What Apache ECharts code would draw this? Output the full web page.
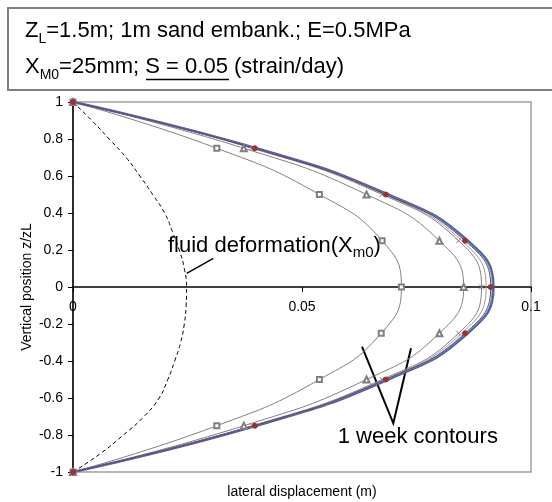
<!DOCTYPE html>
<html>
<head>
<meta charset="utf-8">
<script src="https://cdn.jsdelivr.net/npm/echarts@6/dist/echarts.min.js"></script>
<style>
html, body { margin: 0; padding: 0; background: #fff; }
#chart { width: 552px; height: 502px; }
</style>
</head>
<body>
<div id="chart"></div>
<script>
// vertical positions z/zL where the markers sit
const levels = [1, 0.75, 0.5, 0.25, 0, -0.25, -0.5, -0.75, -1];

// lateral displacement (m) for each contour
const squareX = [0, 0.0314, 0.0538, 0.0675, 0.0717, 0.0673, 0.0538, 0.0314, 0];
const triangleX = [0, 0.0373, 0.0641, 0.0800, 0.0853, 0.0800, 0.0641, 0.0373, 0];
const crossX = [0, 0.0391, 0.0675, 0.0842, 0.0892, 0.0842, 0.0675, 0.0391, 0];
const plainX = [0, 0.0394, 0.0679, 0.0849, 0.0902, 0.0849, 0.0679, 0.0394, 0];
const circleX = [0, 0.0397, 0.0683, 0.0856, 0.0912, 0.0856, 0.0683, 0.0397, 0];
const tealX = [0, 0.0398, 0.0685, 0.0859, 0.0915, 0.0859, 0.0685, 0.0398, 0];
const blueX = [0, 0.0400, 0.0688, 0.0862, 0.0918, 0.0862, 0.0688, 0.0400, 0];

// fluid deformation curve (dashed)
const fluidZ = [1, 0.9, 0.8, 0.7, 0.6, 0.5, 0.4, 0.3, 0.2, 0.1, 0,
    -0.1, -0.2, -0.3, -0.4, -0.5, -0.6, -0.7, -0.8, -0.9, -1];
const fluidX = [0, 0.0041, 0.0079, 0.0116, 0.0146, 0.0174, 0.0200, 0.0217, 0.0232, 0.0243, 0.0248,
    0.0247, 0.0243, 0.0235, 0.0222, 0.0207, 0.0188, 0.0155, 0.0110, 0.0060, 0];

const xMin = 0, xMax = 0.1, xStep = 0.05;
const yMin = -1, yMax = 1, yStep = 0.2;

const FONT = "'Liberation Sans', Arial, sans-serif";
const GREY = '#808080';

const GRID_TOP = 102, GRID_BOTTOM = 30, CHART_H = 502;
// lift the x axis from the grid bottom up to z/zL = 0
const xAxisLift = (CHART_H - GRID_TOP - GRID_BOTTOM) * (0 - yMin) / (yMax - yMin);

const zip = (xs, zs) => xs.map((x, i) => [x, zs[i]]);

const chart = echarts.init(document.getElementById('chart'));

function contour(name, xs, symbol, size, color, extra) {
    return Object.assign({
        name: name,
        type: 'line',
        smooth: true,
        data: zip(xs, levels),
        symbol: symbol,
        symbolSize: size,
        lineStyle: { color: color, width: 1 },
        itemStyle: { color: color, borderColor: color, borderWidth: 1 }
    }, extra || {});
}

const option = {
    animation: false,
    backgroundColor: '#fff',
    textStyle: { fontFamily: FONT },
    grid: {
        left: 73, right: 21, top: GRID_TOP, bottom: GRID_BOTTOM,
        outerBoundsMode: 'none',
        containLabel: false,
        show: true, borderColor: '#a0a0a0', borderWidth: 1.5
    },
    xAxis: {
        type: 'value',
        position: 'bottom',
        offset: -xAxisLift,
        min: xMin, max: xMax, interval: xStep,
        name: 'lateral displacement (m)',
        nameLocation: 'middle',
        nameGap: 198,
        nameMoveOverlap: false,
        nameTextStyle: { fontSize: 14, color: '#000', fontFamily: FONT },
        axisLine: { onZero: false, lineStyle: { color: '#000', width: 1.5 } },
        axisTick: { show: true, length: 5, lineStyle: { color: '#000' } },
        axisLabel: { fontSize: 14, color: '#000', margin: 13, fontFamily: FONT },
        splitLine: { show: false }
    },
    yAxis: {
        type: 'value',
        min: yMin, max: yMax, interval: yStep,
        name: 'Vertical position z/zL',
        nameLocation: 'middle',
        nameGap: 39,
        nameMoveOverlap: false,
        nameTextStyle: { fontSize: 14, color: '#000', fontFamily: FONT },
        axisLine: { show: true, onZero: false, lineStyle: { color: '#000', width: 1.5 } },
        axisTick: { show: true, length: 5, lineStyle: { color: '#000' } },
        axisLabel: { fontSize: 14, color: '#000', margin: 10, fontFamily: FONT },
        splitLine: { show: false }
    },
    series: [
        {
            name: 'fluid',
            type: 'line',
            smooth: true,
            data: zip(fluidX, fluidZ),
            symbol: 'none',
            lineStyle: { color: '#000', width: 1, type: [4, 3] }
        },
        contour('squares', squareX, 'emptyRect', 5, GREY),
        contour('triangles', triangleX, 'emptyTriangle', 6, GREY),
        contour('crosses', crossX, 'path://M0,0L10,10M10,0L0,10', 5, GREY,
            { itemStyle: { color: 'none', borderColor: GREY, borderWidth: 1 } }),
        contour('plain', plainX, 'none', 0, '#9a9a9a'),
        contour('blue', blueX, 'none', 0, '#4e5eae', { lineStyle: { color: '#4e5eae', width: 2.5 } }),
        contour('teal', tealX, 'none', 0, '#5aa5a5'),
        contour('circles', circleX, 'circle', 5, '#993333',
            { lineStyle: { color: '#7a3a5a', width: 1 } })
    ],
    graphic: [
        {
            type: 'rect',
            shape: { x: 8, y: 8, width: 560, height: 82 },
            style: { fill: '#fff', stroke: '#808080', lineWidth: 2 }
        },
        {
            type: 'text',
            x: 25, y: 14.5,
            style: {
                text: '{m|Z}{s|L}{m|=1.5m; 1m sand embank.; E=0.5MPa}',
                fill: '#000',
                rich: {
                    m: { fontSize: 22, fontFamily: FONT },
                    s: { fontSize: 14, fontFamily: FONT, padding: [18, 0, 0, 0] }
                }
            }
        },
        {
            type: 'text',
            x: 25, y: 52.1,
            style: {
                text: '{m|X}{s|M0}{m|=25mm; S = 0.05 (strain/day)}',
                fill: '#000',
                rich: {
                    m: { fontSize: 22, fontFamily: FONT },
                    s: { fontSize: 14, fontFamily: FONT, padding: [16, 0, 0, 0] }
                }
            }
        },
        {
            type: 'line',
            shape: { x1: 146, y1: 79.5, x2: 229, y2: 79.5 },
            style: { stroke: '#000', lineWidth: 1.5 }
        },
        {
            type: 'text',
            x: 168, y: 230.5,
            style: {
                text: '{m|fluid deformation(X}{s|m0}{m|)}',
                fill: '#000',
                rich: {
                    m: { fontSize: 22, fontFamily: FONT },
                    s: { fontSize: 15, fontFamily: FONT, padding: [15, 0, 0, 0] }
                }
            }
        },
        {
            type: 'line',
            shape: { x1: 186.7, y1: 273.3, x2: 213.3, y2: 258.3 },
            style: { stroke: '#000', lineWidth: 1.5 }
        },
        {
            type: 'text',
            x: 337.7, y: 437.4,
            style: {
                text: '1 week contours',
                fill: '#000',
                fontSize: 22,
                fontFamily: FONT,
                verticalAlign: 'middle'
            }
        },
        {
            type: 'polyline',
            shape: { points: [[362, 346.7], [393.3, 423.3], [411, 348.3]] },
            style: { stroke: '#000', lineWidth: 2, fill: null }
        }
    ]
};

chart.setOption(option);
</script>
</body>
</html>
